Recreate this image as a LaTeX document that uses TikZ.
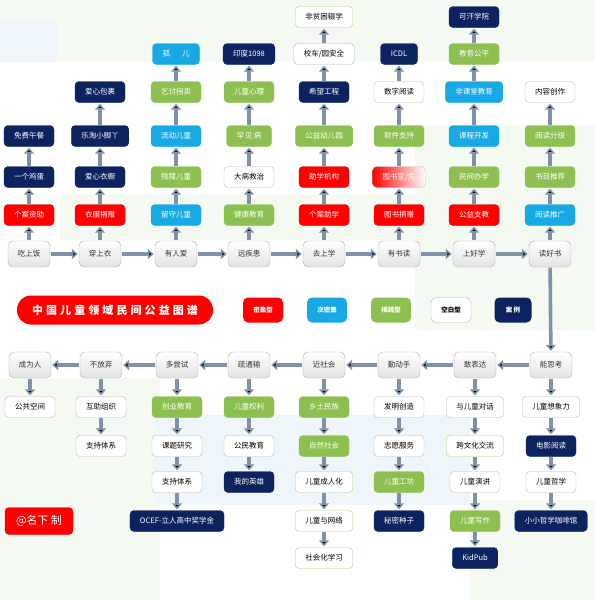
\documentclass[tikz,border=0pt]{standalone}
\usepackage{fontspec}
\setmainfont{Noto Sans CJK SC}
\newfontfamily\titlefont[LetterSpace=28]{Noto Sans CJK SC}
\usetikzlibrary{arrows.meta}
\definecolor{densered}{RGB}{255,0,0}
\definecolor{semiblue}{RGB}{23,168,230}
\definecolor{sparsegreen}{RGB}{141,192,80}
\definecolor{casenavy}{RGB}{12,35,95}
\definecolor{arrowedge}{RGB}{128,146,170}
\definecolor{arrowfill}{RGB}{236,240,248}
\definecolor{washgreen}{RGB}{244,249,242}
\definecolor{washblue}{RGB}{239,246,251}
\tikzset{
  box/.style={rounded corners=4pt, minimum width=37pt, minimum height=21pt,
    inner xsep=10pt, inner ysep=2pt, font=\fontsize{7.5}{8}\selectfont},
  dense/.style={box, fill=densered, draw=densered!85!black, text=white},
  semi/.style={box, fill=semiblue, draw=semiblue, text=white},
  sparse/.style={box, fill=sparsegreen, draw=sparsegreen, text=white},
  blank/.style={box, fill=white, draw=gray!55, text=black},
  blankg/.style={blank, draw=sparsegreen!75},
  case/.style={box, fill=casenavy, draw=casenavy, text=white},
  stage/.style={rounded corners=5pt, minimum width=42pt, minimum height=26pt,
    draw=gray!65, top color=white, bottom color=gray!22, text=black!80,
    font=\fontsize{7.5}{8}\selectfont},
  legend/.style={rounded corners=5pt, minimum width=40pt, minimum height=25pt,
    inner sep=1pt, font=\fontsize{6.5}{7}\selectfont\bfseries},
  flow/.style={draw=arrowedge, line width=3.6pt, shorten <=0.5pt, shorten >=1pt,
    -{Triangle[length=6pt,width=10pt]},
    postaction={draw=arrowfill, line width=1.9pt, shorten <=1.4pt, shorten >=2.9pt,
      -{Triangle[length=3.6pt,width=6.4pt]}}},
}

\begin{document}
\begin{tikzpicture}[x=1pt, y=-1pt]
  \useasboundingbox (0,0) rectangle (595,600);
  % Fundo
  \fill[washgreen] (0,0) rectangle (595,62);
  \fill[washblue] (0,20) rectangle (58,62);
  \fill[washgreen] (60,195) rectangle (420,240);
  \fill[washgreen] (415,125) rectangle (595,330);
  \fill[washgreen] (0,378) rectangle (160,600);
  \fill[washblue] (155,415) rectangle (470,505);
  \fill[washgreen] (470,500) rectangle (595,600);
  % Linha de cima
  \node[stage] (eat)    at (29,254)  {吃上饭};
  \node[stage] (dress)  at (100,254) {穿上衣};
  \node[stage] (love)   at (176,254) {有人爱};
  \node[stage] (heal)   at (249,254) {远疾患};
  \node[stage] (school) at (324,254) {去上学};
  \node[stage] (books)  at (399,254) {有书读};
  \node[stage] (learn)  at (474,254) {上好学};
  \node[stage] (read)   at (550,254) {读好书};
  % Colunas de cima
  \node[dense] (eat1) at (29,215) {个案资助};
  \node[case]  (eat2) at (29,177) {一个鸡蛋};
  \node[case]  (eat3) at (29,136) {免费午餐};
  \node[dense] (dress1) at (100,215) {衣服捐赠};
  \node[case]  (dress2) at (100,177) {爱心衣橱};
  \node[case]  (dress3) at (100,136) {乐淘小脚丫};
  \node[case]  (dress4) at (100,92)  {爱心包裹};
  \node[semi]   (love1) at (176,215) {留守儿童};
  \node[sparse] (love2) at (176,177) {残障儿童};
  \node[semi]   (love3) at (176,136) {流动儿童};
  \node[sparse] (love4) at (176,92)  {乞讨拐卖};
  \node[semi]   (love5) at (176,54)  {孤\hspace{1.6em}儿};
  \node[sparse] (heal1) at (249,215) {健康教育};
  \node[blank]  (heal2) at (249,177) {大病救治};
  \node[sparse] (heal3) at (249,136) {罕\,见\,病};
  \node[sparse] (heal4) at (249,92)  {儿童心理};
  \node[case]   (heal5) at (249,54)  {印度1098};
  \node[dense]  (school1) at (324,215) {个案助学};
  \node[dense]  (school2) at (324,177) {助学机构};
  \node[sparse] (school3) at (324,136) {公益幼儿园};
  \node[case]   (school4) at (324,92)  {希望工程};
  \node[blank]  (school5) at (324,54)  {校车/园安全};
  \node[blankg] (school6) at (324,17)  {非贫困辍学};
  \node[dense]  (books1) at (399,215) {图书捐赠};
  \node[box, left color=densered, right color=white, draw=gray!50, text=white]
                (books2) at (399,177) {图书室/角};
  \node[sparse] (books3) at (399,136) {软件支持};
  \node[blank]  (books4) at (399,92)  {数字阅读};
  \node[case]   (books5) at (399,54)  {ICDL};
  \node[dense]  (learn1) at (474,215) {公益支教};
  \node[sparse] (learn2) at (474,177) {民间办学};
  \node[semi]   (learn3) at (474,136) {课程开发};
  \node[semi]   (learn4) at (474,92)  {非课堂教育};
  \node[sparse] (learn5) at (474,54)  {教育公平};
  \node[case]   (learn6) at (474,17)  {可汗学院};
  \node[semi]   (read1) at (550,215) {阅读推广};
  \node[sparse] (read2) at (550,177) {书目推荐};
  \node[sparse] (read3) at (550,136) {阅读分级};
  \node[blank]  (read4) at (550,92)  {内容创作};
  % Legenda
  \node[legend, rounded corners=14pt, fill=densered, text=white, minimum width=196pt,
        minimum height=29pt, font=\fontsize{11}{12}\titlefont\bfseries]
        (title) at (115,310) {中国儿童领域民间公益图谱};
  \node[legend, fill=densered, text=white]  (kdense)  at (263,310) {密集型};
  \node[legend, fill=semiblue, text=white]  (ksemi)   at (327,310) {次密集};
  \node[legend, fill=sparsegreen, text=white] (ksparse) at (391,310) {稀疏型};
  \node[legend, fill=white, draw=gray!60, text=black] (kblank) at (451,310) {空白型};
  \node[legend, fill=casenavy, text=white, minimum width=37pt] (kcase) at (513,310) {案\,例};
  % Linha de baixo
  \node[stage] (grow)    at (30,365)  {成为人};
  \node[stage] (persist) at (101,365) {不放弃};
  \node[stage] (try)     at (177,365) {多尝试};
  \node[stage] (channel) at (249,365) {疏通输};
  \node[stage] (society) at (324,365) {近社会};
  \node[stage] (hands)   at (399,365) {勤动手};
  \node[stage] (speak)   at (475,365) {敢表达};
  \node[stage] (think)   at (551,365) {能思考};
  % Colunas de baixo
  \node[blank] (grow1) at (30,407) {公共空间};
  \node[blank] (persist1) at (101,407) {互助组织};
  \node[blank] (persist2) at (101,446) {支持体系};
  \node[sparse] (try1) at (177,407) {创业教育};
  \node[blank]  (try2) at (177,446) {课题研究};
  \node[blank]  (try3) at (177,482) {支持体系};
  \node[case]   (try4) at (177,521) {OCEF-立人高中奖学金};
  \node[sparse] (channel1) at (249,407) {儿童权利};
  \node[blank]  (channel2) at (249,446) {公民教育};
  \node[case]   (channel3) at (249,482) {我的英雄};
  \node[sparse] (society1) at (324,407) {乡土民族};
  \node[sparse] (society2) at (324,446) {自然社会};
  \node[blankg] (society3) at (324,482) {儿童成人化};
  \node[blankg] (society4) at (324,521) {儿童与网络};
  \node[blankg] (society5) at (324,558) {社会化学习};
  \node[blank]  (hands1) at (399,407) {发明创造};
  \node[blank]  (hands2) at (399,446) {志愿服务};
  \node[sparse] (hands3) at (399,482) {儿童工坊};
  \node[case]   (hands4) at (399,521) {秘密种子};
  \node[blank]  (speak1) at (475,407) {与儿童对话};
  \node[blankg] (speak2) at (475,446) {跨文化交流};
  \node[blank]  (speak3) at (475,482) {儿童演讲};
  \node[sparse] (speak4) at (475,521) {儿童写作};
  \node[case]   (speak5) at (475,558) {KidPub};
  \node[blank]  (think1) at (551,407) {儿童想象力};
  \node[case]   (think2) at (551,446) {电影阅读};
  \node[blank]  (think3) at (551,482) {儿童哲学};
  \node[case]   (think4) at (551,521) {小小哲学咖啡馆};
  % Assinatura
  \node[box, fill=densered, draw=densered, text=white, minimum width=68pt,
        minimum height=27pt, font=\fontsize{11}{12}\selectfont] (sign) at (39,521) {@名下 制};
  % Setas
  \path[flow]
    (eat) edge (dress) (dress) edge (love) (love) edge (heal) (heal) edge (school)
    (school) edge (books) (books) edge (learn) (learn) edge (read)
    (read) edge (think)
    (think) edge (speak) (speak) edge (hands) (hands) edge (society)
    (society) edge (channel) (channel) edge (try) (try) edge (persist)
    (persist) edge (grow);
  \path[flow]
    (eat) edge (eat1) (eat1) edge (eat2) (eat2) edge (eat3)
    (dress) edge (dress1) (dress1) edge (dress2) (dress2) edge (dress3) (dress3) edge (dress4)
    (love) edge (love1) (love1) edge (love2) (love2) edge (love3) (love3) edge (love4)
    (love4) edge (love5)
    (heal) edge (heal1) (heal1) edge (heal2) (heal2) edge (heal3) (heal3) edge (heal4)
    (heal4) edge (heal5)
    (school) edge (school1) (school1) edge (school2) (school2) edge (school3)
    (school3) edge (school4) (school4) edge (school5) (school5) edge (school6)
    (books) edge (books1) (books1) edge (books2) (books2) edge (books3)
    (books3) edge (books4) (books4) edge (books5)
    (learn) edge (learn1) (learn1) edge (learn2) (learn2) edge (learn3)
    (learn3) edge (learn4) (learn4) edge (learn5) (learn5) edge (learn6)
    (read) edge (read1) (read1) edge (read2) (read2) edge (read3) (read3) edge (read4);
  \path[flow]
    (grow) edge (grow1)
    (persist) edge (persist1) (persist1) edge (persist2)
    (try) edge (try1) (try1) edge (try2) (try2) edge (try3) (try3) edge (try4)
    (channel) edge (channel1) (channel1) edge (channel2) (channel2) edge (channel3)
    (society) edge (society1) (society1) edge (society2) (society2) edge (society3)
    (society3) edge (society4) (society4) edge (society5)
    (hands) edge (hands1) (hands1) edge (hands2) (hands2) edge (hands3) (hands3) edge (hands4)
    (speak) edge (speak1) (speak1) edge (speak2) (speak2) edge (speak3)
    (speak3) edge (speak4) (speak4) edge (speak5)
    (think) edge (think1) (think1) edge (think2) (think2) edge (think3) (think3) edge (think4);
\end{tikzpicture}
\end{document}
